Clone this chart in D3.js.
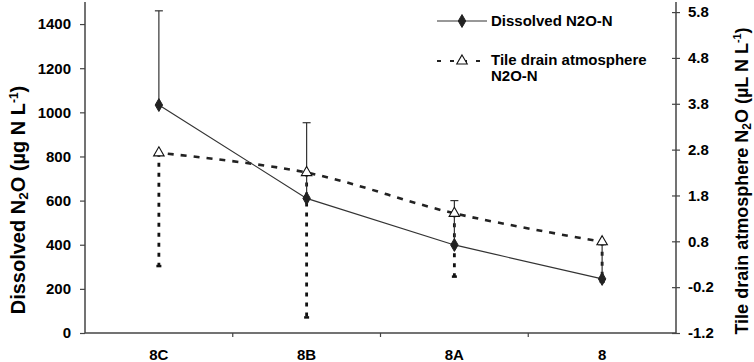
<!DOCTYPE html>
<html><head><meta charset="utf-8">
<script src="https://cdn.jsdelivr.net/npm/d3@7"></script>
<style>
html,body{margin:0;padding:0;background:#fff;}
svg{display:block;font-family:"Liberation Sans",Arial,sans-serif;}
</style></head>
<body><svg id="c" width="754" height="362"></svg>
<script>
const categories = ["8C", "8B", "8A", "8"];
const dissolved = [1033, 610, 399, 245];
const dissolvedUpper = [1460, 953, 600, 400];
const tileDrain = [2.73, 2.30, 1.41, 0.79];
const tileDrainLower = [0.26, -0.86, 0.03, -0.08];
const leftTicks = [0, 200, 400, 600, 800, 1000, 1200, 1400];
const rightTicks = [-1.2, -0.2, 0.8, 1.8, 2.8, 3.8, 4.8, 5.8];

const svg = d3.select("#c");
const L = 85, R = 676, T = 2, B = 333;
const x = d3.scaleBand().domain(categories).range([L, R]);
const cx = d => x(d) + x.bandwidth() / 2;
const yL = d3.scaleLinear().domain([0, 1500]).range([B, T]);
const yR = d3.scaleLinear().domain([-1.2, 6.02]).range([B, T]);
const axisCol = "#444";

// Left axis
const gL = svg.append("g").attr("transform", `translate(${L},0)`)
  .call(d3.axisLeft(yL).tickValues(leftTicks).tickSize(5).tickPadding(9).tickFormat(d3.format("d")));
gL.select(".domain").attr("d", `M0,${T}V${B}`);
// Right axis
const gR = svg.append("g").attr("transform", `translate(${R},0)`)
  .call(d3.axisRight(yR).tickValues(rightTicks).tickSize(4).tickPadding(8).tickFormat(d => d.toFixed(1)));
gR.select(".domain").attr("d", `M0,${T}V${B}`);
gR.selectAll(".tick line").attr("x1", -4);
// Bottom axis
const gB = svg.append("g").attr("transform", `translate(0,${B})`)
  .call(d3.axisBottom(x).tickSize(0).tickPadding(16));
gB.select(".domain").attr("d", `M${L},0H${R}`);
gB.selectAll(".sep").data(categories.slice(1)).enter().append("line")
  .attr("class", "sep").attr("x1", d => x(d)).attr("x2", d => x(d))
  .attr("y1", 0).attr("y2", 4).attr("stroke", axisCol).attr("stroke-width", 1.2);

[gL, gR, gB].forEach(g => {
  g.select(".domain").attr("stroke", axisCol).attr("stroke-width", 1.5);
  g.selectAll(".tick line").attr("stroke", axisCol).attr("stroke-width", 1.2);
  g.selectAll("text").attr("font-size", 15).attr("font-weight", "bold")
    .attr("fill", "#000").attr("font-family", "Liberation Sans, Arial, sans-serif");
});

// Axis titles
function title(txt1, txt2, x0, yc, fs) {
  const t = svg.append("text").attr("transform", `translate(${x0},${yc}) rotate(-90)`)
    .attr("text-anchor", "middle").attr("font-size", fs).attr("font-weight", "bold");
  t.append("tspan").text(txt1);
  t.append("tspan").text("2").attr("font-size", fs * 0.67).attr("dy", 3);
  t.append("tspan").text(txt2).attr("dy", -3);
  t.append("tspan").text("-1").attr("font-size", fs * 0.6).attr("dy", -7);
  t.append("tspan").text(")").attr("dy", 7);
  return t;
}
title("Dissolved N", "O (µg N L", 25, 200, 20);
title("Tile drain atmosphere N", "O (µL N L", 748, 181, 18);

// Tile drain error bars (lower, dashed thick)
const gE2 = svg.append("g");
categories.forEach((c, i) => {
  gE2.append("line").attr("x1", cx(c)).attr("x2", cx(c))
    .attr("y1", yR(tileDrain[i])).attr("y2", yR(tileDrainLower[i]))
    .attr("stroke", "#111").attr("stroke-width", 2.8).attr("stroke-dasharray", "4,6");
  gE2.append("line").attr("x1", cx(c) - 2.5).attr("x2", cx(c) + 2.5)
    .attr("y1", yR(tileDrainLower[i])).attr("y2", yR(tileDrainLower[i]))
    .attr("stroke", "#111").attr("stroke-width", 2.5);
});
// Dissolved error bars (upper, thin solid)
const gE1 = svg.append("g");
categories.forEach((c, i) => {
  gE1.append("line").attr("x1", cx(c)).attr("x2", cx(c))
    .attr("y1", yL(dissolved[i])).attr("y2", yL(dissolvedUpper[i]))
    .attr("stroke", "#333").attr("stroke-width", 1.2);
  gE1.append("line").attr("x1", cx(c) - 4).attr("x2", cx(c) + 4)
    .attr("y1", yL(dissolvedUpper[i])).attr("y2", yL(dissolvedUpper[i]))
    .attr("stroke", "#333").attr("stroke-width", 1.2);
});

// Lines
svg.append("path").datum(categories.map((c, i) => [cx(c), yR(tileDrain[i])]))
  .attr("d", d3.line().curve(d3.curveCatmullRom.alpha(0.5)))
  .attr("fill", "none").attr("stroke", "#222").attr("stroke-width", 2.6)
  .attr("stroke-dasharray", "6,7").attr("stroke-dashoffset", -9);
svg.append("path").datum(categories.map((c, i) => [cx(c), yL(dissolved[i])]))
  .attr("d", d3.line()).attr("fill", "none").attr("stroke", "#333").attr("stroke-width", 1.2);

// Markers
const diamond = d3.symbol().type(d3.symbolDiamond).size(48);
const tri = d3.symbol().type(d3.symbolTriangle).size(48);
categories.forEach((c, i) => {
  svg.append("path").attr("d", tri()).attr("transform", `translate(${cx(c)},${yR(tileDrain[i])})`)
    .attr("fill", "#fff").attr("stroke", "#111").attr("stroke-width", 1.1);
  svg.append("path").attr("d", diamond()).attr("transform", `translate(${cx(c)},${yL(dissolved[i])})`)
    .attr("fill", "#222").attr("stroke", "#222");
});

// Legend
const lg = svg.append("g");
lg.append("line").attr("x1", 437).attr("x2", 487).attr("y1", 21).attr("y2", 21)
  .attr("stroke", "#333").attr("stroke-width", 1.2);
lg.append("path").attr("d", diamond()).attr("transform", "translate(462,21)").attr("fill", "#222").attr("stroke", "#222");
lg.append("text").attr("x", 491).attr("y", 26).attr("font-size", 15).attr("font-weight", "bold").text("Dissolved N2O-N");
lg.append("line").attr("x1", 437).attr("x2", 487).attr("y1", 61).attr("y2", 61)
  .attr("stroke", "#222").attr("stroke-width", 1.8).attr("stroke-dasharray", "4,9");
lg.append("path").attr("d", tri()).attr("transform", "translate(462,61)").attr("fill", "#fff").attr("stroke", "#111").attr("stroke-width", 1.1);
const lt = lg.append("text").attr("x", 491).attr("y", 65).attr("font-size", 15).attr("font-weight", "bold");
lt.append("tspan").text("Tile drain atmosphere");
lt.append("tspan").attr("x", 491).attr("dy", 16).text("N2O-N");
</script></body></html>
